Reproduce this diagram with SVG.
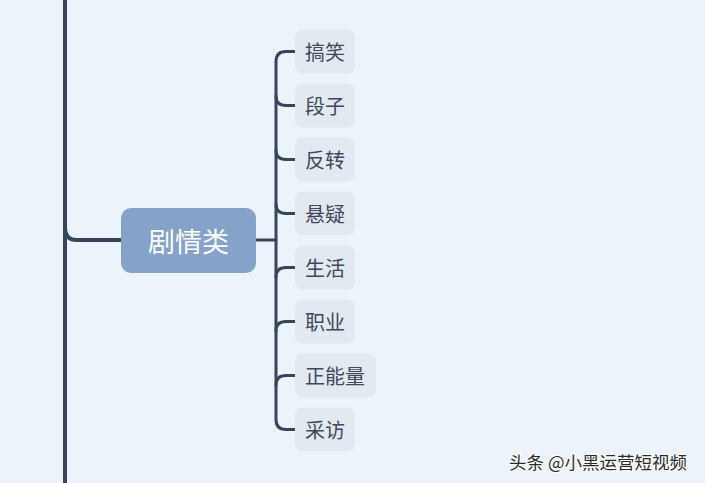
<svg xmlns="http://www.w3.org/2000/svg" width="705" height="483" viewBox="0 0 705 483">
<style>
.ln{fill:none;stroke:#36455C;stroke-linecap:round;stroke-linejoin:round}
.child rect{fill:#E2E9F1}
.child text{font-family:"Noto Sans CJK SC","Noto Sans",sans-serif;font-size:20px;fill:#3E4A5C;dominant-baseline:central}
</style>
<rect width="705" height="483" fill="#EDF3FA"/>
<g id="connectors">
<path class="ln" stroke-width="4" d="M65 -5 V488"/>
<path class="ln" stroke-width="4" d="M65 228 Q65 240 77 240 H121"/>
<path class="ln" stroke-width="3" d="M256 240 H276"/>
<path class="ln" stroke-width="3" d="M295 51.5 H286 Q276 51.5 276 61.5 V419.5 Q276 429.5 286 429.5 H295"/>
<path class="ln" stroke-width="3" d="M276 96 Q276 105.5 286 105.5 H295"/>
<path class="ln" stroke-width="3" d="M276 150 Q276 159.5 286 159.5 H295"/>
<path class="ln" stroke-width="3" d="M276 204 Q276 213.5 286 213.5 H295"/>
<path class="ln" stroke-width="3" d="M276 277 Q276 267.5 286 267.5 H295"/>
<path class="ln" stroke-width="3" d="M276 331 Q276 321.5 286 321.5 H295"/>
<path class="ln" stroke-width="3" d="M276 385 Q276 375.5 286 375.5 H295"/>
</g>
<g id="root">
<rect x="121" y="208" width="135" height="65" rx="10" fill="#85A3C9"/>
<text x="188.5" y="240.5" text-anchor="middle" dominant-baseline="central" font-family="Noto Sans CJK SC,Noto Sans,sans-serif" font-size="27" fill="#FFFFFF">剧情类</text>
</g>
<g id="n1" class="child"><rect x="295" y="29.5" width="60" height="44" rx="8"/><text x="305" y="51.5">搞笑</text></g>
<g id="n2" class="child"><rect x="295" y="83.5" width="60" height="44" rx="8"/><text x="305" y="105.5">段子</text></g>
<g id="n3" class="child"><rect x="295" y="137.5" width="60" height="44" rx="8"/><text x="305" y="159.5">反转</text></g>
<g id="n4" class="child"><rect x="295" y="191.5" width="60" height="44" rx="8"/><text x="305" y="213.5">悬疑</text></g>
<g id="n5" class="child"><rect x="295" y="245.5" width="60" height="44" rx="8"/><text x="305" y="267.5">生活</text></g>
<g id="n6" class="child"><rect x="295" y="299.5" width="60" height="44" rx="8"/><text x="305" y="321.5">职业</text></g>
<g id="n7" class="child"><rect x="295" y="353.5" width="81" height="44" rx="8"/><text x="305" y="375.5">正能量</text></g>
<g id="n8" class="child"><rect x="295" y="407.5" width="60" height="44" rx="8"/><text x="305" y="429.5">采访</text></g>
<text x="509" y="461" dominant-baseline="central" font-family="Noto Sans CJK SC,Noto Sans,sans-serif" font-size="17.5" fill="#2B2B2B" stroke="#FFFFFF" stroke-width="2" paint-order="stroke">头条 @小黑运营短视频</text>
</svg>
